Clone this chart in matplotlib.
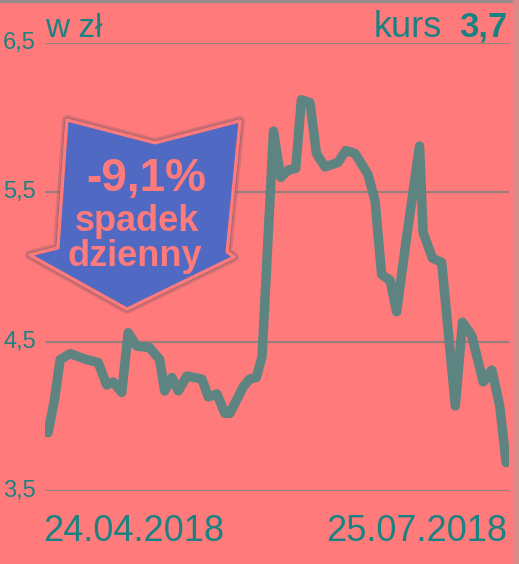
import matplotlib
matplotlib.use("Agg")
import matplotlib.pyplot as plt
import matplotlib.patheffects as pe
from matplotlib.patches import Polygon, Rectangle


# =========================
# DATA
# =========================
# trading-day position (0 = 24.04.2018, ~64 = 25.07.2018)
days = [
    0.0, 0.9, 1.7, 3.1, 5.4, 7.0, 8.2, 9.1, 10.3, 11.2,
    12.4, 14.2, 15.6, 16.3, 17.3, 18.2, 19.4, 21.5, 22.4, 23.6,
    24.7, 25.4, 27.3, 28.2, 29.1, 29.9, 31.5, 32.5, 33.6, 34.6,
    35.4, 36.6, 37.5, 38.7, 40.5, 41.6, 42.9, 44.7, 45.7, 46.6,
    47.8, 48.7, 50.1, 51.9, 52.4, 53.7, 55.0, 56.9, 57.9, 59.2,
    60.8, 62.0, 63.1, 64.0,
]

kurs = [
    3.89, 4.11, 4.38, 4.42, 4.38, 4.36, 4.21, 4.23, 4.16, 4.56,
    4.47, 4.46, 4.38, 4.17, 4.26, 4.17, 4.27, 4.25, 4.13, 4.15,
    4.02, 4.02, 4.20, 4.25, 4.26, 4.40, 5.91, 5.60, 5.65, 5.66,
    6.12, 6.10, 5.76, 5.67, 5.70, 5.78, 5.76, 5.62, 5.44, 4.95,
    4.91, 4.70, 5.20, 5.81, 5.23, 5.06, 5.03, 4.07, 4.63, 4.54,
    4.23, 4.31, 4.07, 3.69,
]

y_ticks = [3.5, 4.5, 5.5, 6.5]
y_tick_labels = ["3,5", "4,5", "5,5", "6,5"]

date_start = "24.04.2018"
date_end = "25.07.2018"

drop_pct = "-9,1%"
last_rate = "3,7"


# =========================
# STYLE
# =========================
BG = "#FF7A7A"
LINE = "#5D8481"
TEAL = "#1A8282"
GRID = "#9A7E7E"
BLUE = "#5069C2"

W, H = 519, 564
fig = plt.figure(figsize=(W / 100, H / 100), dpi=100)
fig.patch.set_facecolor(BG)

plt.rcParams["font.family"] = ["Liberation Sans", "DejaVu Sans"]

# main axes: gridlines run from x=45 to 509 px, 6.5 at y=43, 3.5 at y=491
ax = fig.add_axes([45 / W, (H - 491) / H, (509 - 45) / W, (491 - 43) / H])
ax.set_facecolor("none")
ax.set_ylim(3.5, 6.5)
ax.set_xlim(-0.42, 64.4)

for v in y_ticks:
    ax.axhline(v, color=GRID, linewidth=1.6, zorder=1)

ax.plot(
    days,
    kurs,
    color=LINE,
    linewidth=6.8,
    solid_capstyle="round",
    solid_joinstyle="round",
    zorder=3
)

for spine in ax.spines.values():
    spine.set_visible(False)
ax.set_xticks([])
ax.set_yticks([])

# overlay in pixel coordinates for text and the arrow
ov = fig.add_axes([0, 0, 1, 1])
ov.set_xlim(0, W)
ov.set_ylim(H, 0)
ov.axis("off")
ov.set_facecolor("none")

# y labels
for v, lab in zip(y_ticks, y_tick_labels):
    py = 43 + (6.5 - v) * (491 - 43) / 3.0
    ov.text(36, py, lab, color=TEAL, fontsize=17,
            ha="right", va="center")

ov.text(45, 37, "w zł", color=TEAL, fontsize=24,
        ha="left", va="baseline")

ov.text(442, 37, "kurs", color=TEAL, fontsize=26,
        ha="right", va="baseline")
ov.text(507, 37, last_rate, color=TEAL, fontsize=25,
        fontweight="bold", ha="right", va="baseline")

ov.text(43, 541, date_start, color=TEAL, fontsize=26,
        ha="left", va="baseline")
ov.text(507, 541, date_end, color=TEAL, fontsize=26,
        ha="right", va="baseline")

# arrow
arrow_pts = [
    (67, 120), (155, 143), (240, 121), (227, 252),
    (234, 257), (127, 309), (30, 255), (58, 248),
]
arrow = Polygon(
    arrow_pts,
    closed=True,
    facecolor=BLUE,
    edgecolor=BG,
    linewidth=2.2,
    joinstyle="round",
    zorder=5
)
arrow.set_path_effects([
    pe.withStroke(linewidth=7, foreground="#8a5c6a", alpha=0.35),
    pe.withStroke(linewidth=4, foreground="#7a5a66", alpha=0.4),
    pe.Normal(),
])
ov.add_patch(arrow)

ov.text(146, 191, drop_pct, color=BG, fontsize=33, fontweight="bold",
        ha="center", va="baseline", zorder=6)
ov.text(137, 231, "spadek", color=BG, fontsize=26, fontweight="bold",
        ha="center", va="baseline", zorder=6)
ov.text(135, 266, "dzienny", color=BG, fontsize=26, fontweight="bold",
        ha="center", va="baseline", zorder=6)

# frame bits: top hairline and right strip
ov.add_patch(Rectangle((0, 0), W, 1.5, color="#9a8a8a", zorder=2))
ov.add_patch(Rectangle((513, 0), 6, H, color="#DB8888", zorder=2))

plt.savefig("out.png", dpi=100, facecolor=BG)
plt.close()
